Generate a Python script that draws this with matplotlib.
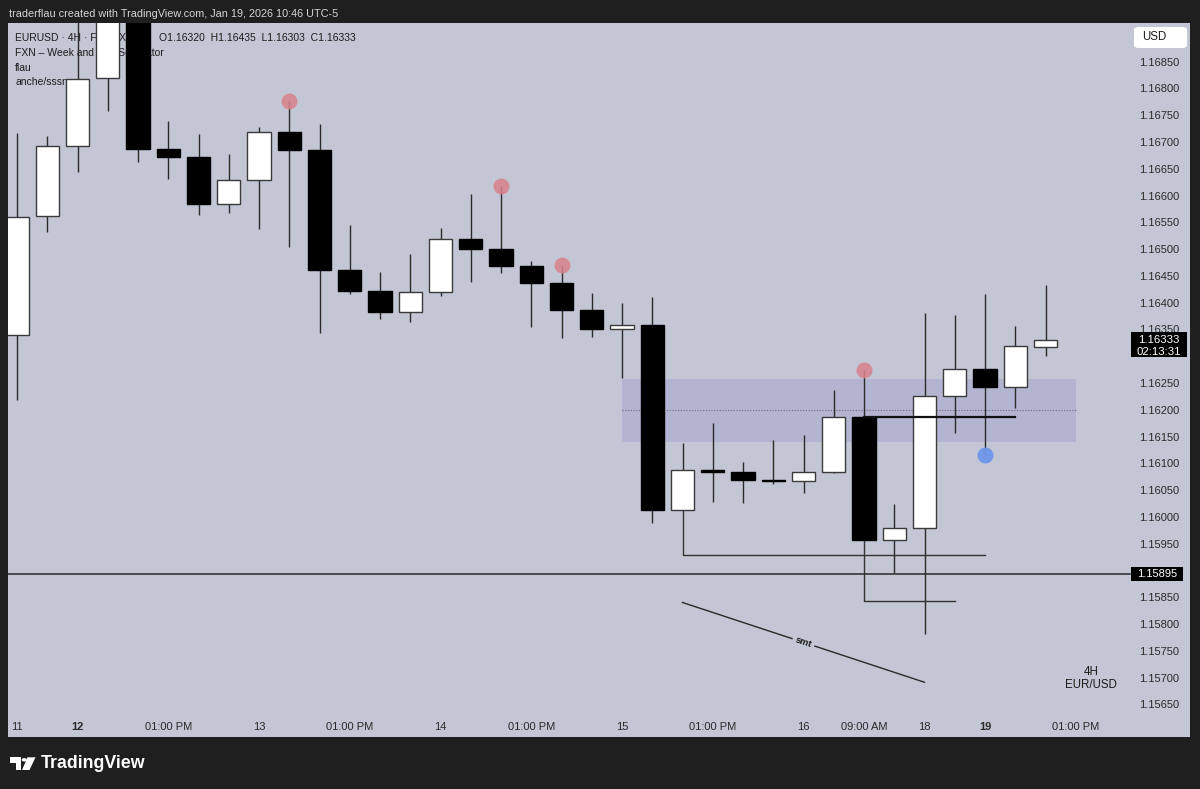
import matplotlib
matplotlib.use("Agg")
import matplotlib.pyplot as plt
import matplotlib.patches as patches
import matplotlib.transforms as mtransforms
import numpy as np

# === EURUSD 4H velas (11 ene - 19 ene) ===
opens = [1.16342, 1.16564, 1.16695, 1.16821, 1.16960, 1.16688, 1.16674, 1.16587, 1.16631,
         1.16721, 1.16687, 1.16463, 1.16424, 1.16384, 1.16422, 1.16521, 1.16503, 1.16470,
         1.16439, 1.16388, 1.16353, 1.16360, 1.16015, 1.16089, 1.16086, 1.16071, 1.16069,
         1.16085, 1.16188, 1.15959, 1.15981, 1.16228, 1.16278, 1.16245, 1.16320]
highs = [1.16718, 1.16714, 1.16948, 1.17000, 1.17000, 1.16742, 1.16717, 1.16680, 1.16729,
         1.16779, 1.16736, 1.16547, 1.16459, 1.16493, 1.16541, 1.16605, 1.16620, 1.16480,
         1.16472, 1.16419, 1.16401, 1.16413, 1.16140, 1.16178, 1.16105, 1.16145, 1.16155,
         1.16238, 1.16276, 1.16025, 1.16382, 1.16379, 1.16418, 1.16359, 1.16435]
lows = [1.16220, 1.16534, 1.16645, 1.16760, 1.16665, 1.16632, 1.16566, 1.16570, 1.16539,
        1.16505, 1.16345, 1.16418, 1.16371, 1.16365, 1.16414, 1.16441, 1.16458, 1.16356,
        1.16335, 1.16338, 1.16262, 1.15990, 1.16014, 1.16030, 1.16027, 1.16063, 1.16046,
        1.16084, 1.15958, 1.15897, 1.15783, 1.16159, 1.16117, 1.16205, 1.16303]
closes = [1.16562, 1.16694, 1.16820, 1.16960, 1.16689, 1.16674, 1.16587, 1.16631, 1.16721,
          1.16687, 1.16463, 1.16424, 1.16384, 1.16421, 1.16521, 1.16503, 1.16470, 1.16439,
          1.16388, 1.16353, 1.16360, 1.16015, 1.16089, 1.16086, 1.16071, 1.16068, 1.16085,
          1.16188, 1.15959, 1.15981, 1.16228, 1.16278, 1.16245, 1.16321, 1.16333]

# marcas de pivotes
red_idx = [9, 16, 18, 28]
blue_idx = [32]

# zona y dibujos
zone_x = (20, 35)
zone_lo, zone_mid, zone_hi = 1.16141, 1.16201, 1.16260
open_line = (28, 33, 1.16188)
low_mark_1 = (22, 32, 1.16015, 1.15931)
low_mark_2 = (28, 31, 1.15959, 1.15845)
smt_line = ((22, 1.15842), (30, 1.15693))
support_price = 1.15895

# ejes (1.15900 y 1.16300 quedan tapados por las etiquetas de precio)
price_ticks = [1.15650, 1.15700, 1.15750, 1.15800, 1.15850, 1.15950, 1.16000,
               1.16050, 1.16100, 1.16150, 1.16200, 1.16250, 1.16350, 1.16400,
               1.16450, 1.16500, 1.16550, 1.16600, 1.16650, 1.16700, 1.16750, 1.16800,
               1.16850]
time_pos = [0, 2, 5, 8, 11, 14, 17, 20, 23, 26, 28, 30, 32, 35]
time_labels = ["11", "12", "01:00 PM", "13", "01:00 PM", "14", "01:00 PM", "15",
               "01:00 PM", "16", "09:00 AM", "18", "19", "01:00 PM"]
bold_labels = ["12", "19"]

BG = "#C3C6D4"
FRAME = "#1F1F1F"
FONT = "Liberation Sans"
plt.rcParams["font.family"] = [FONT, "DejaVu Sans"]

W, H = 1200, 789
fig = plt.figure(figsize=(W / 100, H / 100), dpi=100, facecolor=FRAME)


def fx(px):
    return px / W


def fy(py):
    return 1 - py / H


AX_L, AX_T, AX_W, AX_H = 8, 23, 1182, 714
ax = fig.add_axes([fx(AX_L), fy(AX_T + AX_H), AX_W / W, AX_H / H])
ax.set_facecolor(BG)
for s in ax.spines.values():
    s.set_visible(False)
ax.set_xticks([])
ax.set_yticks([])

step = 30.25  # px por vela
ax.set_xlim(-9 / step, (AX_W - 9) / step)
ymin, ymax = 1.155908, 1.169241
ax.set_ylim(ymin, ymax)
ppp = (ymax - ymin) / AX_H  # precio por pixel


def axx(px):
    return (px - AX_L) / AX_W


blend = mtransforms.blended_transform_factory(ax.transAxes, ax.transData)
xblend = ax.get_xaxis_transform()

# leyenda arriba (debajo de las velas)
legend_lines = ["EURUSD · 4H · FOREXCOM   O1.16320  H1.16435  L1.16303  C1.16333",
                "FXN – Week and Day Separator", "flau", "anche/sssns"]
for i, t in enumerate(legend_lines):
    ax.text(axx(15), 1 - (15.3 + i * 14.7) / AX_H, t, transform=ax.transAxes,
            fontsize=7.5, color="#1c1c1c", va="center", ha="left", zorder=1)

# zona
x = np.arange(len(opens))
ax.add_patch(patches.Rectangle((zone_x[0], zone_lo), zone_x[1] - zone_x[0], zone_hi - zone_lo,
                               facecolor="#B3B4CF", edgecolor="none", zorder=1))
ax.plot(zone_x, [zone_mid, zone_mid], color="#6a6a80", lw=0.8, ls=(0, (1, 1.5)), zorder=1.5)

# velas
o = np.array(opens)
c = np.array(closes)
up = c >= o
ax.vlines(x, lows, highs, color="#2b2b2b", lw=1.0, zorder=2)
body_lo = np.minimum(o, c)
body_h = np.maximum(np.abs(c - o), 1.6 * ppp)
ax.bar(x[up], body_h[up], bottom=body_lo[up], width=0.77, color="white",
       edgecolor="#3a3a3a", linewidth=1.0, zorder=3)
ax.bar(x[~up], body_h[~up], bottom=body_lo[~up], width=0.77, color="black",
       edgecolor="black", linewidth=1.0, zorder=3)

# dibujos
ax.plot([open_line[0], open_line[1]], [open_line[2]] * 2, color="#111111", lw=1.6, zorder=4)
for a, b, top, lvl in [low_mark_1, low_mark_2]:
    ax.plot([a, a, b], [top, lvl, lvl], color="#333333", lw=1.0, zorder=2)
ax.axhline(support_price, xmin=0, xmax=axx(1130), color="#2a2a2a", lw=1.1, zorder=2)

(sx0, sy0), (sx1, sy1) = smt_line
ax.plot([sx0, sx1], [sy0, sy1], color="#2a2a2a", lw=1.0, zorder=2)
p0 = ax.transData.transform((sx0, sy0))
p1 = ax.transData.transform((sx1, sy1))
ang = np.degrees(np.arctan2(p1[1] - p0[1], p1[0] - p0[0]))
ax.text((sx0 + sx1) / 2, (sy0 + sy1) / 2, "smt", rotation=ang, rotation_mode="anchor",
        ha="center", va="center", fontsize=6.8, fontweight="bold", color="#1a1a1a",
        bbox=dict(boxstyle="square,pad=0.3", fc=BG, ec="none"), zorder=3)

# pivotes
ax.plot(red_idx, [highs[i] for i in red_idx], "o", ms=11.5, color="#D9818C",
        alpha=0.85, mec="none", zorder=5)
ax.plot(blue_idx, [lows[i] for i in blue_idx], "o", ms=11.5, color="#6F96EA",
        alpha=0.95, mec="none", zorder=5)

# escala de precios
for p in price_ticks:
    ax.text(axx(1159), p, f"{p:.5f}", transform=blend, ha="center", va="center",
            fontsize=8, color="#2a2a2a", zorder=6)

last = closes[-1]
ax.add_patch(patches.Rectangle((axx(1131), last - 17.7 * ppp), (1187 - 1131) / AX_W, 25.6 * ppp,
                               transform=blend, facecolor="black", edgecolor="none", zorder=7))
ax.text(axx(1159), last, f"{last:.5f}", transform=blend, ha="center", va="center",
        fontsize=8.2, color="white", zorder=8)
ax.text(axx(1159), last - 12.3 * ppp, "02:13:31", transform=blend, ha="center", va="center",
        fontsize=8.2, color="white", zorder=8)

ax.add_patch(patches.Rectangle((axx(1131), support_price - 7 * ppp), (1183 - 1131) / AX_W,
                               14 * ppp, transform=blend, facecolor="black",
                               edgecolor="none", zorder=7))
ax.text(axx(1157), support_price, f"{support_price:.5f}", transform=blend, ha="center",
        va="center", fontsize=8, color="white", zorder=8)

# caja USD
ax.add_patch(patches.FancyBboxPatch((axx(1134), 1 - 25 / AX_H), (1187 - 1134) / AX_W, 21 / AX_H,
                                    boxstyle="round,pad=0,rounding_size=0.004",
                                    transform=ax.transAxes, facecolor="white",
                                    edgecolor="none", zorder=7))
ax.text(axx(1142), 1 - 14.5 / AX_H, "USD", transform=ax.transAxes, ha="left", va="center",
        fontsize=8.3, color="#1a1a1a", zorder=8)

# eje de tiempo
for pos, lab in zip(time_pos, time_labels):
    ax.text(pos, 10 / AX_H, lab, transform=xblend, ha="center", va="center", fontsize=8,
            color="#2a2a2a", fontweight="bold" if lab in bold_labels else "normal", zorder=6)

ax.text(axx(1091), 1 - (672 - AX_T) / AX_H, "4H", transform=ax.transAxes, ha="center",
        va="center", fontsize=8.3, color="#1a1a1a")
ax.text(axx(1091), 1 - (684.5 - AX_T) / AX_H, "EUR/USD", transform=ax.transAxes, ha="center",
        va="center", fontsize=8.3, color="#1a1a1a")

# cabecera y logo
fig.text(fx(9), fy(14), "traderflau created with TradingView.com, Jan 19, 2026 10:46 UTC-5",
         ha="left", va="center", fontsize=7.8, color="#D6D6D6")

logo = [
    [(10, 757.3), (21, 757.3), (21, 770), (16, 770), (16, 763), (10, 763)],
    [(27.5, 757.3), (35.5, 757.3), (29.5, 770), (22, 770)],
]
for poly in logo:
    fig.patches.append(patches.Polygon([(fx(a), fy(b)) for a, b in poly], closed=True,
                                       transform=fig.transFigure, facecolor="white",
                                       edgecolor="none"))
fig.patches.append(patches.Circle((fx(24.3), fy(759.8)), 2.6 / W, transform=fig.transFigure,
                                  facecolor="white", edgecolor="none"))
fig.text(fx(41), fy(763.5), "TradingView", ha="left", va="center", fontsize=12.8,
         fontweight="bold", color="white")

fig.savefig("out.png", dpi=100, facecolor=FRAME)
